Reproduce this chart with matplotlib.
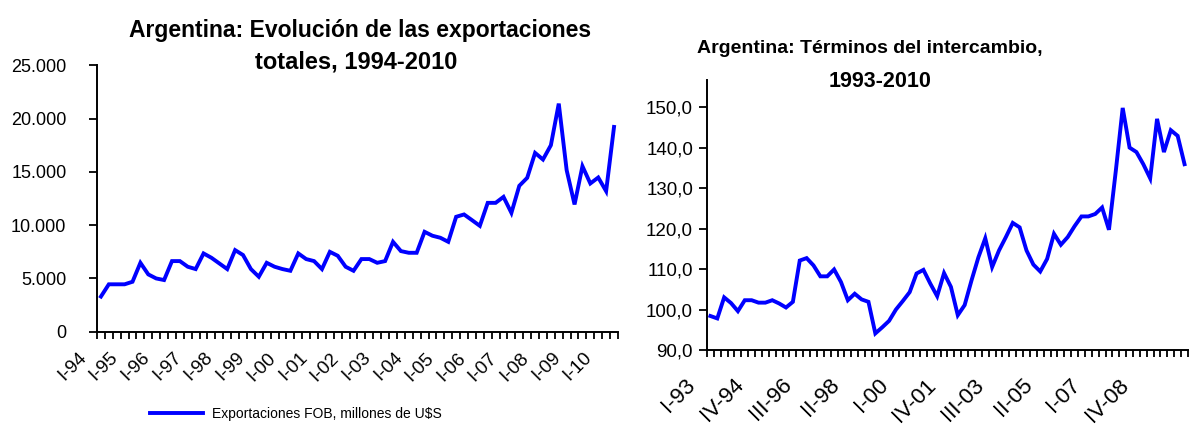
import matplotlib
matplotlib.use("Agg")
import matplotlib.pyplot as plt
from matplotlib.ticker import FuncFormatter, FixedLocator
from matplotlib.transforms import ScaledTranslation

plt.rcParams["font.family"] = ["Liberation Sans", "DejaVu Sans"]

# exportaciones FOB trimestrales, millones de U$S (I-94 .. II-10)
exportaciones = [
    3300, 4450, 4450, 4450, 4690, 6470, 5380, 5000, 4850, 6630, 6630, 6100,
    5880, 7350, 6940, 6410, 5880, 7660, 7200, 5880, 5160, 6470, 6100, 5880,
    5720, 7350, 6820, 6630, 5880, 7500, 7130, 6100, 5720, 6820, 6820, 6470,
    6630, 8440, 7570, 7410, 7410, 9380, 9010, 8820, 8440, 10790, 11010, 10480,
    9940, 12100, 12100, 12660, 11160, 13700, 14450, 16790, 16170, 17510, 21420, 15170,
    11950, 15540, 13920, 14480, 13200, 19230,
]
etiquetas_expo = ["I-94", "I-95", "I-96", "I-97", "I-98", "I-99", "I-00", "I-01", "I-02",
                  "I-03", "I-04", "I-05", "I-06", "I-07", "I-08", "I-09", "I-10"]

# terminos del intercambio trimestrales (I-93 .. II-10)
terminos = [
    98.4, 97.8, 103.0, 101.6, 99.6, 102.3, 102.3, 101.7, 101.7, 102.3, 101.5, 100.5,
    101.9, 112.1, 112.7, 110.9, 108.2, 108.2, 109.9, 106.8, 102.3, 103.9, 102.5, 101.9,
    94.1, 95.6, 97.2, 100.0, 102.1, 104.3, 108.9, 109.8, 106.4, 103.3, 109.0, 105.6,
    98.6, 101.1, 107.2, 112.9, 117.6, 110.5, 114.6, 117.9, 121.4, 120.3, 114.6, 111.1,
    109.4, 112.5, 118.7, 116.0, 117.9, 120.6, 123.0, 123.0, 123.6, 125.2, 119.7, 134.3,
    149.8, 140.0, 138.9, 135.9, 132.4, 147.1, 138.9, 144.3, 142.9, 135.9,
]
etiquetas_ti = ["I-93", "IV-94", "III-96", "II-98", "I-00", "IV-01", "III-03",
                "II-05", "I-07", "IV-08"]

azul = "#0000FF"

fig = plt.figure(figsize=(11.9, 4.32), dpi=100)

# ---- panel izquierdo: exportaciones
ax1 = fig.add_axes([0.0815, 0.2322, 0.4378, 0.6162])
n1 = len(exportaciones)
ax1.plot(range(n1), exportaciones, color=azul, lw=2.8, solid_joinstyle="miter",
         label="Exportaciones FOB, millones de U$S")
ax1.set_xlim(-0.5, n1 - 0.5)
ax1.set_ylim(0, 25000)
ax1.set_yticks(range(0, 25001, 5000))
ax1.yaxis.set_major_formatter(FuncFormatter(lambda v, p: f"{int(v):,}".replace(",", ".")))
ax1.xaxis.set_major_locator(FixedLocator([i - 0.5 for i in range(n1 + 1)]))
ax1.xaxis.set_major_formatter(FuncFormatter(lambda v, p: ""))
ax1.xaxis.set_minor_locator(FixedLocator(list(range(0, n1, 4))))
ax1.set_xticklabels(etiquetas_expo, minor=True, rotation=45, ha="right",
                    va="center", rotation_mode="anchor", fontsize=13.5)
ax1.tick_params(axis="x", which="major", direction="out", length=5, width=1.3)
ax1.tick_params(axis="x", which="minor", length=0, pad=17)
ax1.tick_params(axis="y", direction="out", length=6, width=1.3, labelsize=13, pad=16)

# ---- panel derecho: terminos del intercambio
ax2 = fig.add_axes([0.5941, 0.1898, 0.4042, 0.625])
n2 = len(terminos)
ax2.plot(range(n2), terminos, color=azul, lw=2.8, solid_joinstyle="miter")
ax2.set_xlim(-0.5, n2 - 0.5)
ax2.set_ylim(90, 156.7)
ax2.set_yticks(range(90, 151, 10))
ax2.yaxis.set_major_formatter(FuncFormatter(lambda v, p: f"{v:.1f}".replace(".", ",")))
ax2.xaxis.set_major_locator(FixedLocator([i - 0.5 for i in range(n2 + 1)]))
ax2.xaxis.set_major_formatter(FuncFormatter(lambda v, p: ""))
ax2.xaxis.set_minor_locator(FixedLocator(list(range(0, n2, 7))))
ax2.set_xticklabels(etiquetas_ti, minor=True, rotation=45, ha="right",
                    va="center", rotation_mode="anchor", fontsize=16)
ax2.tick_params(axis="x", which="major", direction="out", length=5, width=1.3)
ax2.tick_params(axis="x", which="minor", length=0, pad=23)
ax2.tick_params(axis="y", direction="out", length=6, width=1.3, labelsize=13.5, pad=4)

# desplazar etiquetas rotadas un poco a la izquierda (como en Excel)
for ax, dx in ((ax1, -17), (ax2, -18)):
    off = ScaledTranslation(dx / 100, 0, fig.dpi_scale_trans)
    for lab in ax.get_xticklabels(minor=True):
        lab.set_transform(lab.get_transform() + off)

for ax in (ax1, ax2):
    for s in ("top", "right"):
        ax.spines[s].set_visible(False)
    for s in ("left", "bottom"):
        ax.spines[s].set_linewidth(1.4)

# titulos
fig.text(360 / 1190, 1 - 37 / 432, "Argentina: Evolución de las exportaciones",
         ha="center", va="baseline", fontsize=16.5, fontweight="bold")
fig.text(356 / 1190, 1 - 68 / 432, "totales, 1994-2010",
         ha="center", va="baseline", fontsize=17, fontweight="bold")
fig.text(870 / 1190, 1 - 53 / 432, "Argentina: Términos del intercambio,",
         ha="center", va="baseline", fontsize=14, fontweight="bold")
fig.text(880 / 1190, 1 - 87 / 432, "1993-2010",
         ha="center", va="baseline", fontsize=15.5, fontweight="bold")

# leyenda
fig.legend(*ax1.get_legend_handles_labels(), loc="center left",
           bbox_to_anchor=(150 / 1190, 1 - 414 / 432), frameon=False,
           fontsize=10, handlelength=3.8, handletextpad=0.7,
           borderpad=0, borderaxespad=0)

fig.savefig("out.png", dpi=100)
